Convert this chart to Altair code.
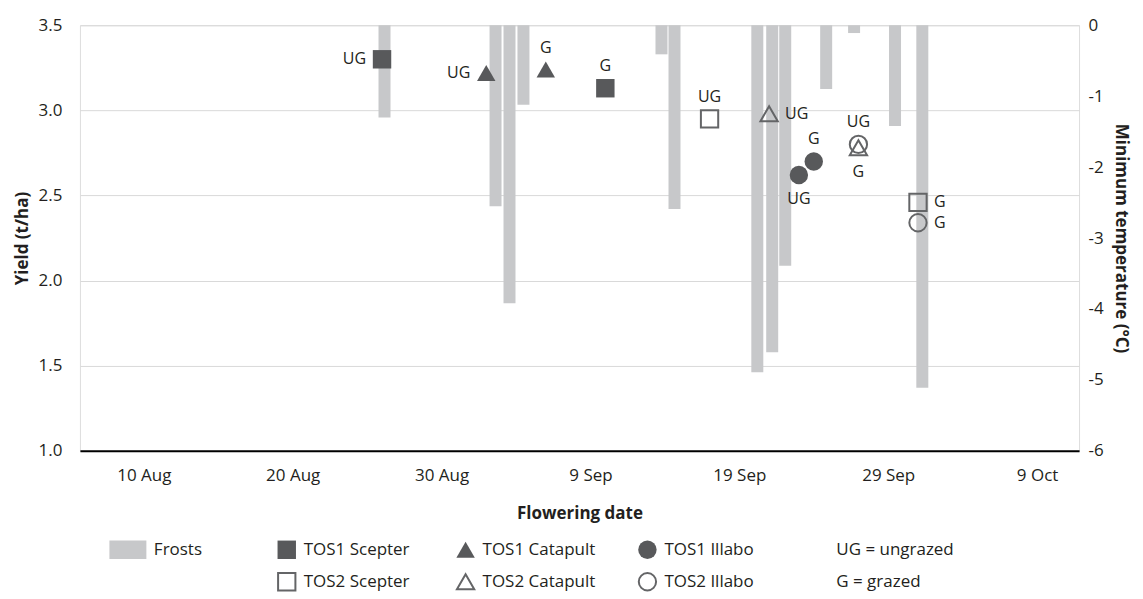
import altair as alt
import pandas as pd

# ---------------- data ----------------
# Frost events (bars hanging from 0 degC)
frost_dates = ["2019-08-26T04:00", "2019-09-02T15:00", "2019-09-03T13:30", "2019-09-04T12:00",
               "2019-09-13T18:30", "2019-09-14T15:30", "2019-09-20T05:00", "2019-09-21T05:00",
               "2019-09-22T02:00", "2019-09-24T20:00", "2019-09-26T17:00", "2019-09-29T11:00",
               "2019-10-01T07:00"]
frost_tmin = [-1.30, -2.55, -3.92, -1.12, -0.41, -2.59, -4.89, -4.61, -3.39, -0.90, -0.11, -1.42, -5.11]

# Yield points
series = ["TOS1 Scepter", "TOS1 Scepter", "TOS1 Catapult", "TOS1 Catapult", "TOS1 Illabo", "TOS1 Illabo",
          "TOS2 Scepter", "TOS2 Scepter", "TOS2 Catapult", "TOS2 Catapult", "TOS2 Illabo", "TOS2 Illabo"]
treatment = ["UG", "G", "UG", "G", "UG", "G", "UG", "G", "UG", "G", "UG", "G"]
flower_dates = ["2019-08-26T00:00", "2019-09-10T00:00", "2019-09-02T00:00", "2019-09-06T00:00",
                "2019-09-23T00:00", "2019-09-24T00:00", "2019-09-17T00:00", "2019-10-01T00:00",
                "2019-09-21T00:00", "2019-09-27T00:00", "2019-09-27T00:00", "2019-10-01T00:00"]
yields = [3.30, 3.13, 3.22, 3.24, 2.62, 2.70, 2.95, 2.46, 2.98, 2.78, 2.80, 2.34]
label_side = ["left", "above", "left", "above", "below", "above",
              "above", "right", "right", "below", "above", "right"]

varieties = ["Scepter", "Catapult", "Illabo"]
tick_days = [(8, 10), (8, 20), (8, 30), (9, 9), (9, 19), (9, 29), (10, 9)]
yield_ticks = [1.0, 1.5, 2.0, 2.5, 3.0, 3.5]
temp_ticks = [0, -1, -2, -3, -4, -5, -6]

# Legend entries
leg_labels = ["Frosts", "TOS1 Scepter", "TOS1 Catapult", "TOS1 Illabo", "UG = ungrazed",
              "TOS2 Scepter", "TOS2 Catapult", "TOS2 Illabo", "G = grazed"]
leg_kind = ["frost", "TOS1", "TOS1", "TOS1", "note", "TOS2", "TOS2", "TOS2", "note"]
leg_variety = ["", "Scepter", "Catapult", "Illabo", "", "Scepter", "Catapult", "Illabo", ""]
leg_col = [0, 1, 2, 3, 4, 1, 2, 3, 4]
leg_row = [0, 0, 0, 0, 0, 1, 1, 1, 1]

# ---------------- tables ----------------
frost_df = pd.DataFrame({"date": frost_dates, "tmin": frost_tmin})
pts_df = pd.DataFrame({
    "series": series,
    "tos": [s.split()[0] for s in series],
    "variety": [s.split()[1] for s in series],
    "trt": treatment,
    "date": flower_dates,
    "yield": yields,
    "side": label_side,
})
leg_df = pd.DataFrame({"label": leg_labels, "kind": leg_kind, "variety": leg_variety,
                       "col": leg_col, "row": leg_row})

# ---------------- style ----------------
FONT = "Open Sans"
TXT = "#231f20"
DARK = "#58595b"
OPEN = "#646567"
FROST = "#c7c8ca"
GRID = "#d9d9d9"
FS = 17

x_domain = [alt.DateTime(year=2019, month=8, date=5, hours=17),
            alt.DateTime(year=2019, month=10, date=11, hours=19, minutes=40)]
x_ticks = [alt.DateTime(year=2019, month=m, date=d) for m, d in tick_days]

x_enc = alt.X("date:T", title="Flowering date",
              scale=alt.Scale(domain=x_domain, padding=0),
              axis=alt.Axis(values=x_ticks, format="%-d %b", grid=False, ticks=False,
                            domainColor="black", domainWidth=2, labelPadding=17,
                            titlePadding=22, labelFontSize=FS, titleFontSize=FS,
                            labelFont=FONT, titleFont=FONT, labelColor=TXT, titleColor=TXT,
                            titleFontWeight="bold"))

y_yield = alt.Y("yield:Q", title="Yield (t/ha)",
                scale=alt.Scale(domain=[1, 3.5], nice=False, zero=False, padding=0),
                axis=alt.Axis(values=yield_ticks, format=".1f", grid=True, gridColor=GRID,
                              gridWidth=1, ticks=False, domain=False, labelPadding=18,
                              titlePadding=7, labelFontSize=FS, titleFontSize=FS,
                              labelFont=FONT, titleFont=FONT, labelColor=TXT, titleColor=TXT,
                              titleFontWeight="bold"))

shape_enc = alt.Shape("variety:N", legend=None,
                      scale=alt.Scale(domain=varieties, range=["square", "triangle-up", "circle"]))

# ---------------- main plot ----------------
bars = alt.Chart(frost_df).mark_bar(size=12, color=FROST).encode(
    x=x_enc,
    y=alt.Y("tmin:Q", title="Minimum temperature (°C)",
            scale=alt.Scale(domain=[-6, 0], nice=False, zero=False, padding=0),
            axis=alt.Axis(orient="right", values=temp_ticks, labelExpr="'' + datum.value",
                          grid=False, ticks=False, domain=False, labelPadding=9, titlePadding=8,
                          labelFontSize=FS, titleFontSize=FS, labelFont=FONT, titleFont=FONT,
                          labelColor=TXT, titleColor=TXT, titleFontWeight="bold")),
    y2=alt.datum(0),
)

pbase = alt.Chart(pts_df).encode(x=x_enc, y=y_yield)
tos1 = pbase.transform_filter(alt.datum.tos == "TOS1").mark_point(
    filled=True, color=DARK, size=340, opacity=1).encode(shape=shape_enc)
tos2 = pbase.transform_filter(alt.datum.tos == "TOS2").mark_point(
    filled=False, color=OPEN, strokeWidth=2, size=300, opacity=1).encode(shape=shape_enc)

side_style = {
    "above": dict(align="center", dx=0, dy=-22),
    "below": dict(align="center", dx=0, dy=24),
    "left": dict(align="right", dx=-16, dy=0),
    "right": dict(align="left", dx=16, dy=0),
}
text_layers = [
    pbase.transform_filter(alt.datum.side == s).mark_text(
        baseline="middle", font=FONT, fontSize=16, color=TXT, **kw).encode(text="trt:N")
    for s, kw in side_style.items()
]

yield_layer = alt.layer(tos1, tos2, *text_layers)
main = alt.layer(bars, yield_layer).resolve_scale(y="independent")

# ---------------- legend ----------------
lx = alt.X("col:Q", axis=None,
           scale=alt.Scale(domain=[0, 1, 2, 3, 4], range=[57, 207, 386, 568, 740],
                           nice=False, zero=False))
ly = alt.Y("row:Q", axis=None,
           scale=alt.Scale(domain=[0, 1], range=[525, 557], nice=False, zero=False))
lbase = alt.Chart(leg_df).encode(x=lx, y=ly)
leg_frost = lbase.transform_filter(alt.datum.kind == "frost").mark_point(
    shape="M-1,-0.5H1V0.5H-1Z", filled=True, color=FROST, size=1369, opacity=1, xOffset=-9)
leg_tos1 = lbase.transform_filter(alt.datum.kind == "TOS1").mark_point(
    filled=True, color=DARK, size=340, opacity=1).encode(shape=shape_enc)
leg_tos2 = lbase.transform_filter(alt.datum.kind == "TOS2").mark_point(
    filled=False, color=OPEN, strokeWidth=2, size=300, opacity=1).encode(shape=shape_enc)
leg_text = lbase.mark_text(align="left", baseline="middle", dx=17, font=FONT,
                           fontSize=FS, color=TXT).encode(text="label:N")
legend = alt.layer(leg_frost, leg_tos1, leg_tos2, leg_text)

chart = alt.layer(main, legend).resolve_scale(x="independent", y="independent").properties(
    width=1000, height=426,
    padding={"left": 5, "top": 8, "right": 5, "bottom": 2},
).configure_view(stroke=None).configure(font=FONT)

chart.save("out.html", embed_options={"renderer": "svg", "actions": False})
